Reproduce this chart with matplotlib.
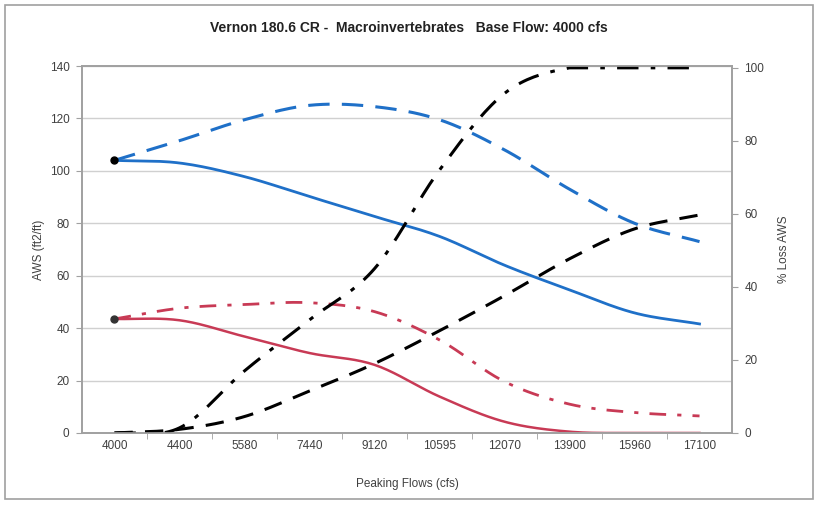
import matplotlib.pyplot as plt
from matplotlib.patches import Rectangle
import numpy as np

plt.rcParams['font.family'] = ['Liberation Sans', 'DejaVu Sans']

# categories (peaking flows, cfs)
flows = ['4000', '4400', '5580', '7440', '9120', '10595', '12070', '13900', '15960', '17100']

# AWS (ft2/ft) - left axis
blue_solid = [104, 103, 97.8, 90.2, 82.6, 75, 64, 54.6, 45.8, 41.6]
blue_dash = [104, 111.5, 119.5, 125, 124.5, 119.5, 108, 93, 80, 73]
red_solid = [43.5, 43, 36.8, 30.5, 26, 13.9, 4.3, 0.5, 0, 0]
red_dashdot = [43.5, 47.6, 49, 49.7, 46.3, 35.5, 19.6, 11, 7.8, 6.5]

# % loss AWS - right axis
loss_blue = [0, 1, 4.5, 11.5, 19, 28, 37.6, 47.7, 55.9, 59.7]
loss_red = [0, 1.4, 17, 31, 45, 72, 93, 100, 100, 100]

blue = '#1f70c8'
red = '#c83a55'
grey = '#404040'


def smooth(vals, n=20):
    # catmull-rom style smoothing like excel's smoothed lines
    x = np.arange(len(vals), dtype=float)
    y = np.asarray(vals, dtype=float)
    px = np.concatenate([[2 * x[0] - x[1]], x, [2 * x[-1] - x[-2]]])
    py = np.concatenate([[2 * y[0] - y[1]], y, [2 * y[-1] - y[-2]]])
    xs, ys = [], []
    for i in range(1, len(px) - 2):
        t = np.linspace(0, 1, n, endpoint=False)
        for arr, out in ((px, xs), (py, ys)):
            p0, p1, p2, p3 = arr[i - 1], arr[i], arr[i + 1], arr[i + 2]
            out.extend(0.5 * ((2 * p1) + (-p0 + p2) * t
                              + (2 * p0 - 5 * p1 + 4 * p2 - p3) * t ** 2
                              + (-p0 + 3 * p1 - 3 * p2 + p3) * t ** 3))
    xs.append(x[-1])
    ys.append(y[-1])
    return np.array(xs), np.array(ys)


fig = plt.figure(figsize=(8.18, 5.05), dpi=100)
fig.patches.append(Rectangle((0.006, 0.012), 0.988, 0.978, transform=fig.transFigure,
                             fill=False, edgecolor='#a0a0a0', linewidth=1.2))
ax = fig.add_axes([0.1002, 0.1426, 0.7947, 0.7267])
ax2 = ax.twinx()

ax.plot(*smooth(blue_dash), color=blue, linewidth=2.2, dashes=(7, 4))
ax.plot(*smooth(blue_solid), color=blue, linewidth=2)
ax.plot(*smooth(red_dashdot), color=red, linewidth=2, dashes=(6, 4, 1.5, 4))
ax.plot(*smooth(red_solid), color=red, linewidth=1.8)
ax.plot([0], [blue_solid[0]], 'o', color='black', markersize=5)
ax.plot([0], [red_solid[0]], 'o', color='#333333', markersize=5)

ax2.plot(*smooth(loss_blue), color='black', linewidth=2.2, dashes=(6, 4))
lx, ly = smooth(loss_red)
ax2.plot(lx, np.clip(ly, 0, 100), color='black', linewidth=2.2, dashes=(7, 4, 1.5, 4))

ax.set_xlim(-0.5, 9.5)
ax.set_ylim(0, 140)
ax2.set_ylim(0, 100.5)
ax.set_yticks(range(0, 141, 20))
ax2.set_yticks(range(0, 101, 20))
ax.set_xticks(range(len(flows)))
ax.set_xticklabels(flows)
ax.set_xticks(np.arange(0.5, 9.5, 1), minor=True)
ax.tick_params(axis='x', which='major', length=0, pad=5, labelsize=8.5, labelcolor=grey)
ax.tick_params(axis='x', which='minor', length=4, color='#a0a0a0')
ax.tick_params(axis='y', length=4, color='#a0a0a0', labelsize=8.5, labelcolor=grey, pad=5)
ax2.tick_params(axis='y', length=4, color='#a0a0a0', labelsize=8.5, labelcolor=grey, pad=5)
ax.yaxis.grid(True, color='#d0d0d0', linewidth=1)
ax.set_axisbelow(True)
for a in (ax, ax2):
    for s in a.spines.values():
        s.set_color('#a0a0a0')
        s.set_linewidth(1.2)

ax.set_ylabel('AWS (ft2/ft)', fontsize=8.5, color=grey, labelpad=3)
ax2.set_ylabel('% Loss AWS', fontsize=8.5, color=grey, labelpad=10)
ax.set_xlabel('Peaking Flows (cfs)', fontsize=8.5, color=grey, labelpad=19)
fig.suptitle('Vernon 180.6 CR -  Macroinvertebrates   Base Flow: 4000 cfs',
             fontsize=10, fontweight='bold', color='#222222', y=0.958)

fig.savefig('out.png', dpi=100)
